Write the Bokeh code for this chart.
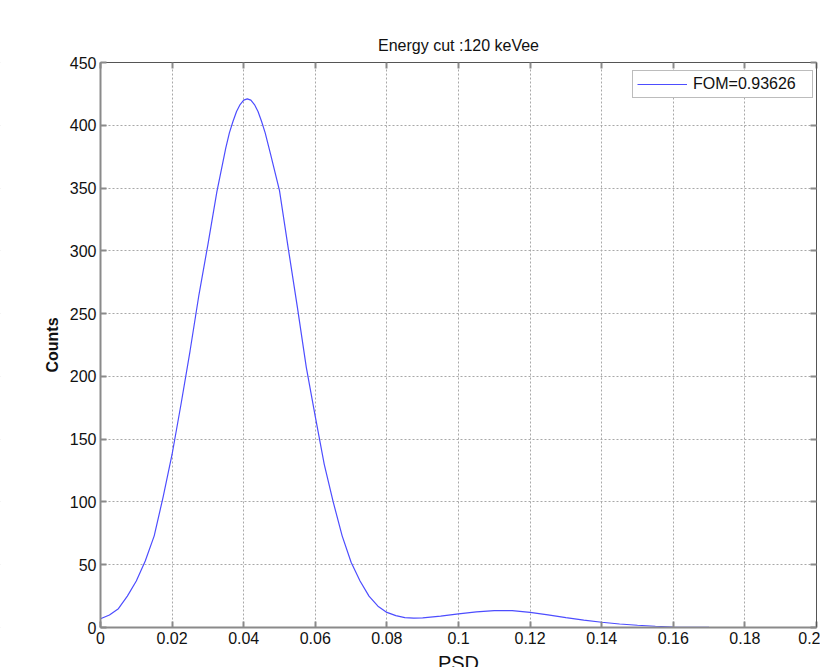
import math
from bokeh.plotting import figure
from bokeh.models import (Range1d, FixedTicker, LinearAxis, Legend, LegendItem, Label,
                          CustomLabelingPolicy, BoxAnnotation)
from bokeh.embed import file_html
from bokeh.resources import INLINE

# ---- data ----
psd = [0, 0.0025, 0.005, 0.0075, 0.01, 0.0125, 0.015, 0.0175, 0.02, 0.0225,
       0.025, 0.0275, 0.03, 0.0325, 0.035, 0.036, 0.037, 0.038, 0.039, 0.04,
       0.041, 0.042, 0.043, 0.044, 0.045, 0.046, 0.0475, 0.05, 0.0525, 0.055,
       0.0575, 0.06, 0.0625, 0.065, 0.0675, 0.07, 0.0725, 0.075, 0.0775, 0.08,
       0.0825, 0.085, 0.0875, 0.09, 0.095, 0.1, 0.105, 0.11, 0.115, 0.12,
       0.125, 0.13, 0.135, 0.14, 0.145, 0.15, 0.155, 0.16, 0.17, 0.18,
       0.19, 0.2]
counts = [7, 10, 15, 25, 37, 53, 73, 104, 138, 178,
          220, 265, 305, 347, 382, 394, 403, 411, 416.5, 420,
          421, 420, 416.5, 411, 403, 394, 377, 348, 301, 255,
          207, 168, 130, 100, 73, 52, 37, 25, 17, 12,
          9.5, 7.8, 7.4, 7.6, 9, 10.9, 12.4, 13.4, 13.4, 12,
          10, 7.9, 5.9, 4.2, 2.8, 1.8, 1.0, 0.4, 0.1, 0,
          0, 0]

x_ticks = [0, 0.02, 0.04, 0.06, 0.08, 0.1, 0.12, 0.14, 0.16, 0.18, 0.2]
x_tick_labels = ["0", "0.02", "0.04", "0.06", "0.08", "0.1", "0.12", "0.14", "0.16", "0.18", "0.2"]
y_ticks = [0, 50, 100, 150, 200, 250, 300, 350, 400, 450]
y_tick_labels = ["0", "50", "100", "150", "200", "250", "300", "350", "400", "450"]

title_text = "Energy cut :120 keVee"
x_label = "PSD"
y_label = "Counts"
legend_text = "FOM=0.93626"

FONT = "Liberation Sans"
AX_GRAY = "#8a8a8a"
AX_DARK = "#555555"
TXT = "#111111"

X_MIN, X_MAX = 0, 0.2
Y_MIN, Y_MAX = 0, 450
X_MID, Y_MID = (X_MIN + X_MAX) / 2, (Y_MIN + Y_MAX) / 2

# layout in pixels: the data box and the margins around it (canvas = frame)
W, H = 820, 667
BOX_L, BOX_R, BOX_T, BOX_B = 100, 4, 62, 40
dx = (X_MAX - X_MIN) / (W - BOX_L - BOX_R)
dy = (Y_MAX - Y_MIN) / (H - BOX_T - BOX_B)
x_lo, x_hi = X_MIN - BOX_L * dx, X_MAX + BOX_R * dx
y_lo, y_hi = Y_MIN - BOX_B * dy, Y_MAX + BOX_T * dy

p = figure(width=W, height=H, output_backend="svg", toolbar_location=None,
           x_range=Range1d(x_lo, x_hi), y_range=Range1d(y_lo, y_hi),
           min_border=0)
p.outline_line_color = None
p.background_fill_color = "white"
p.border_fill_color = "white"

# grid
p.xgrid.ticker = FixedTicker(ticks=x_ticks)
p.ygrid.ticker = FixedTicker(ticks=y_ticks)
for g in (p.xgrid, p.ygrid):
    g.grid_line_color = "#a8a8a8"
    g.grid_line_dash = "2 2"
    g.grid_line_width = 1

# white covers outside the data box (hide the grid there)
ex_x, ex_y = 20 * (x_hi - x_lo), 20 * (y_hi - y_lo)
covers = [
    dict(left=x_lo - ex_x, right=x_hi + ex_x, bottom=y_lo - ex_y, top=Y_MIN),
    dict(left=x_lo - ex_x, right=x_hi + ex_x, bottom=Y_MAX, top=y_hi + ex_y),
    dict(left=x_lo - ex_x, right=X_MIN, bottom=y_lo - ex_y, top=y_hi + ex_y),
    dict(left=X_MAX, right=x_hi + ex_x, bottom=y_lo - ex_y, top=y_hi + ex_y),
]
for kw in covers:
    p.add_layout(BoxAnnotation(fill_color="white", fill_alpha=1, line_color=None,
                               level="glyph", **kw))

line = p.line(psd, counts, line_color="#4d4dff", line_width=1.2)

hide_all = CustomLabelingPolicy(code="""
    for (const i of Array.from(indices)) { indices.unset(i) }
    return indices
""")

# bottom axis
xa = p.xaxis[0]
xa.fixed_location = Y_MIN
xa.bounds = (X_MIN, X_MAX)
xa.ticker = FixedTicker(ticks=x_ticks)
xa.major_label_overrides = dict(zip(x_ticks, x_tick_labels))
# left axis
ya = p.yaxis[0]
ya.fixed_location = X_MIN
ya.bounds = (Y_MIN, Y_MAX)
ya.ticker = FixedTicker(ticks=y_ticks)
ya.major_label_overrides = dict(zip(y_ticks, y_tick_labels))

for ax in (xa, ya):
    ax.major_label_text_font = FONT
    ax.major_label_text_font_size = "16px"
    ax.major_label_text_color = TXT
    ax.major_label_standoff = 4
    ax.axis_line_color = AX_GRAY
    ax.axis_line_width = 2
    ax.major_tick_line_color = AX_GRAY
    ax.major_tick_line_width = 2
    ax.major_tick_in = 6
    ax.major_tick_out = 0
    ax.minor_tick_line_color = None

# top and right axes (box with inward ticks, no labels)
top = LinearAxis(ticker=FixedTicker(ticks=x_ticks), fixed_location=Y_MAX, bounds=(X_MIN, X_MAX),
                 major_label_text_font_size="0px", major_label_policy=hide_all,
                 major_label_standoff=0, major_tick_in=6, major_tick_out=0,
                 minor_tick_line_color=None, axis_line_color=AX_DARK,
                 major_tick_line_color=AX_GRAY, major_tick_line_width=2)
p.add_layout(top, "above")
right = LinearAxis(ticker=FixedTicker(ticks=y_ticks), fixed_location=X_MAX, bounds=(Y_MIN, Y_MAX),
                   major_label_text_font_size="0px", major_label_policy=hide_all,
                   major_label_standoff=0, major_tick_in=6, major_tick_out=0,
                   minor_tick_line_color=None, axis_line_color=AX_DARK,
                   major_tick_line_color=AX_GRAY, major_tick_line_width=2)
p.add_layout(right, "right")

# texts
p.add_layout(Label(x=X_MID, y=Y_MAX, y_offset=17, text=title_text,
                   text_align="center", text_baseline="alphabetic",
                   text_font=FONT, text_font_size="16px", text_color=TXT))
p.add_layout(Label(x=X_MID, y=Y_MIN, y_offset=-24, text=x_label,
                   text_align="center", text_baseline="top",
                   text_font=FONT, text_font_size="20px", text_color=TXT))
p.add_layout(Label(x=X_MIN, y=Y_MID, x_offset=-48, angle=math.pi / 2, text=y_label,
                   text_align="center", text_baseline="middle",
                   text_font=FONT, text_font_size="16px", text_font_style="bold",
                   text_color=TXT))

legend = Legend(items=[LegendItem(label=legend_text, renderers=[line])],
                location=(632, 569), padding=4, spacing=0,
                glyph_width=50, glyph_height=18, label_height=18, label_width=115,
                label_standoff=6, label_text_font=FONT, label_text_font_size="16px",
                label_text_color=TXT,
                border_line_color="#7a7a7a", border_line_width=1,
                background_fill_color="white", background_fill_alpha=1)
p.add_layout(legend)

open("out.html", "w").write(file_html(p, INLINE))
